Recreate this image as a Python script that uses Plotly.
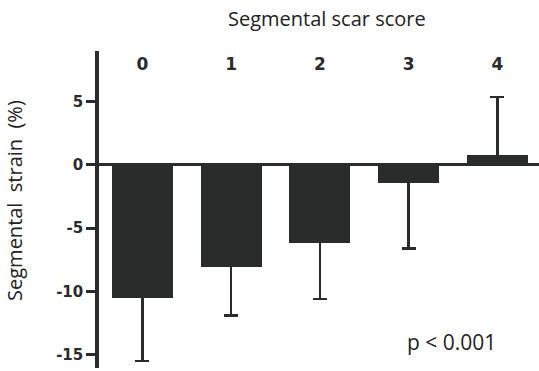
import plotly.graph_objects as go

categories = ["0", "1", "2", "3", "4"]
strain_mean = [-10.55, -8.1, -6.2, -1.4, 0.75]
err_low = [4.95, 3.8, 4.4, 5.2, 0.0]
err_high = [0.0, 0.0, 0.0, 0.0, 4.6]
y_ticks = [-15, -10, -5, 0, 5]

dark = "#2a2b2b"
x_pos = list(range(len(categories)))

# hide the cap on the bar side by tucking it slightly inside the bar
hide = 0.3
arr_up = [e if e > 0 else hide for e in err_high]
arr_down = [e if e > 0 else hide for e in err_low]

fig = go.Figure()
fig.add_trace(go.Bar(
    x=x_pos, y=strain_mean, width=0.69,
    marker=dict(color=dark, line=dict(width=0)),
    error_y=dict(type="data", symmetric=False, array=arr_up, arrayminus=arr_down,
                 color=dark, thickness=2.5, width=7),
    showlegend=False,
))

fig.update_layout(
    width=539, height=371,
    margin=dict(l=99, r=0, t=51, b=3),
    plot_bgcolor="white", paper_bgcolor="white",
    bargap=0,
    xaxis=dict(
        range=[-0.49, 4.47], side="top", automargin=False,
        tickvals=x_pos, ticktext=categories,
        ticklabelposition="inside", ticks="", ticklabelstandoff=4,
        tickfont=dict(family="DejaVu Sans", size=17, color=dark, weight="bold"),
        showline=False, showgrid=False, zeroline=False,
    ),
    yaxis=dict(
        range=[-16.06, 9.0], automargin=False,
        tickvals=y_ticks, ticktext=[str(v) for v in y_ticks],
        ticks="outside", ticklen=9, tickwidth=3, tickcolor=dark,
        tickfont=dict(family="DejaVu Sans", size=15, color=dark, weight="bold"),
        showline=True, linewidth=3.5, linecolor=dark,
        showgrid=False, zeroline=True, zerolinewidth=3, zerolinecolor=dark,
    ),
    annotations=[
        dict(text="Segmental scar score", xref="paper", yref="paper",
             x=0.518, y=1.0, yshift=33, showarrow=False, yanchor="middle",
             font=dict(family="Open Sans", size=20, color="#222")),
        dict(text="Segmental\u00a0 strain\u00a0 (%)", xref="paper", yref="paper",
             x=0.0, xshift=-84, y=0.527, textangle=-90, showarrow=False,
             xanchor="center", yanchor="middle",
             font=dict(family="Open Sans", size=20, color="#222")),
        dict(text="p < 0.001", xref="paper", yref="paper",
             x=0.80, y=0.083, showarrow=False, xanchor="center", yanchor="middle",
             font=dict(family="Open Sans", size=21, color="#222")),
    ],
)

fig.write_html("out.html", config={"displayModeBar": False},
               post_script="document.body.style.margin='0';document.body.style.overflow='hidden';")
